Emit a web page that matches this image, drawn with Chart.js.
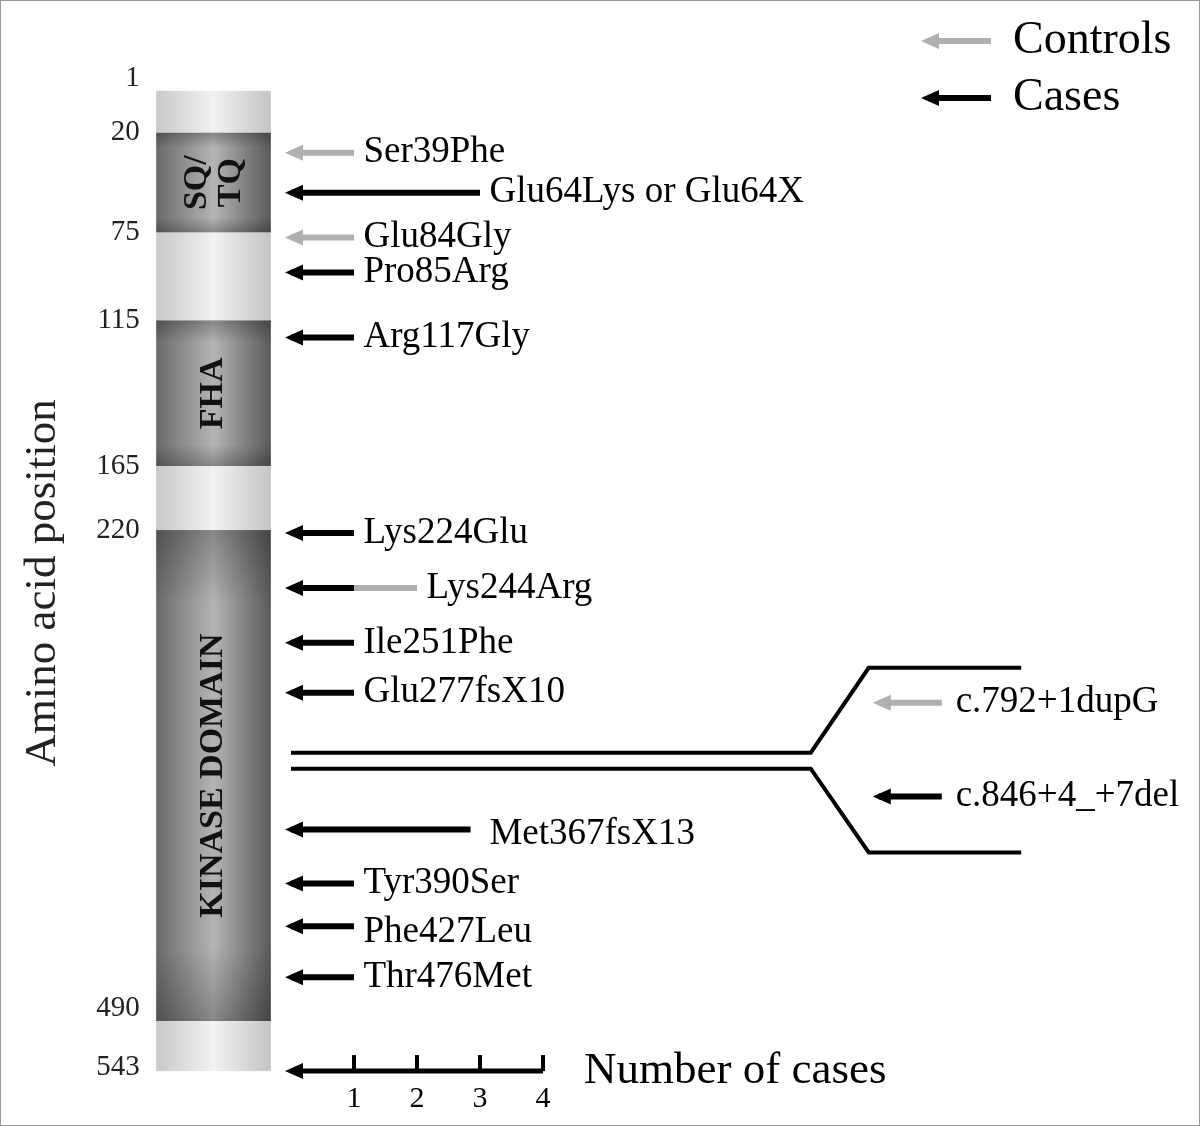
<!DOCTYPE html>
<html><head><meta charset="utf-8">
<script src="https://cdn.jsdelivr.net/npm/chart.js@4/dist/chart.umd.min.js"></script>
<style>html,body{margin:0;padding:0;background:#fff}#wrap{width:1200px;height:1126px;position:relative;box-sizing:border-box;border:1px solid #999}</style>
</head><body><div id="wrap"><canvas id="c"></canvas></div>
<script>
// ---- data ----
const mutLabels = ["Ser39Phe","Glu64Lys or Glu64X","Glu84Gly","Pro85Arg","Arg117Gly","Lys224Glu","Lys244Arg","Ile251Phe","Glu277fsX10","Met367fsX13","Tyr390Ser","Phe427Leu","Thr476Met"];
const mutPos    = [39,64,84,85,117,224,244,251,277,367,390,427,476];
const caseCounts    = [0,3,0,1,1,1,1,1,1,2.85,1,1,1];
const controlCounts = [1,0,1,0,0,0,1,0,0,0,0,0,0];
const spliceLabels = ["c.792+1dupG","c.846+4_+7del"];
const splicePos = [290,320];
const spliceCases = [0,1];
const spliceControls = [1,0];
const tickPositions = [1,20,75,115,165,220,490,543];
const domainStarts = [1,20,75,115,165,220,490];
const domainEnds   = [20,75,115,165,220,490,543];
const domainNames  = ["","SQ/|TQ","","FHA","","KINASE DOMAIN",""];
const caseTicks = [1,2,3,4];

// schematic (not-to-scale) mapping of amino acid position -> vertical fraction
const knots = [[-60,0],[1,90],[20,132],[39,152],[64,192],[75,232],[84,237],[85,272],[115,320],[117,337],[165,466],[220,530],[224,533],[244,588],[251,643],[264,668],[277,693],[290,703],[300,753],[310,769],[320,797],[367,830],[377,853],[390,884],[427,927],[476,978],[490,1022],[543,1072],[600,1126]];

class SchematicScale extends Chart.LinearScale {
  getPixelForValue(v){
    const k=knots; let f;
    if(v<=k[0][0]) f=k[0][1];
    else if(v>=k[k.length-1][0]) f=k[k.length-1][1];
    else for(let i=0;i<k.length-1;i++){ if(v>=k[i][0]&&v<=k[i+1][0]){ f=k[i][1]+(v-k[i][0])/(k[i+1][0]-k[i][0])*(k[i+1][1]-k[i][1]); break; } }
    return this.top + f/1126*(this.bottom-this.top);
  }
}
SchematicScale.id='schematic';
SchematicScale.defaults={};
Chart.register(SchematicScale);

const BLACK='#000', GRAY='#b0b0b0';
const datasets=[];
const labelsToDraw=[];
function addArrow(x0,x1,y,color,head){datasets.push({data:[{x:x0,y},{x:x1,y}],borderColor:color,borderWidth:6,showLine:true,pointRadius:0,head,headColor:color});}
mutPos.forEach((p,i)=>{
  const c=caseCounts[i], k=controlCounts[i];
  if(c>0) addArrow(0,c,p,BLACK,true);
  if(k>0) addArrow(c,c+k,p,GRAY,c===0);
  labelsToDraw.push({text:mutLabels[i],x:c+k+(i===9?0.3:0.15),y:p});
});
splicePos.forEach((p,i)=>{
  const s=9.33,c=spliceCases[i],k=spliceControls[i];
  addArrow(s,s+c+k,p,c>0?BLACK:GRAY,true);
  labelsToDraw.push({text:spliceLabels[i],x:10.55,y:p});
});
datasets.push({data:[{x:0,y:300},{x:8.25,y:300},{x:9.17,y:264},{x:11.59,y:264}],borderColor:BLACK,borderWidth:4,showLine:true,pointRadius:0});
datasets.push({data:[{x:0,y:310},{x:8.25,y:310},{x:9.17,y:377},{x:11.59,y:377}],borderColor:BLACK,borderWidth:4,showLine:true,pointRadius:0});
datasets.push({data:[{x:0,y:543},{x:4,y:543}],borderColor:BLACK,borderWidth:5,showLine:true,pointRadius:0,head:true,headColor:BLACK});

const SERIF='"Liberation Serif","DejaVu Serif",serif';
const plug={id:'schem',
 beforeDatasetsDraw(ch){
  const ctx=ch.ctx,xs=ch.scales.x,ys=ch.scales.y;
  const xl=xs.getPixelForValue(-2.14),xr=xs.getPixelForValue(-0.32);
  domainStarts.forEach((s,i)=>{
    const y0=ys.getPixelForValue(s),y1=ys.getPixelForValue(domainEnds[i]);
    const dark=domainNames[i]!=="";
    const g=ctx.createLinearGradient(xl,0,xr,0);
    if(dark){g.addColorStop(0,'#6a6a6a');g.addColorStop(0.5,'#b4b4b4');g.addColorStop(1,'#5a5a5a');}
    else{g.addColorStop(0,'#c8c8c8');g.addColorStop(0.5,'#f2f2f2');g.addColorStop(1,'#c4c4c4');}
    ctx.fillStyle=g;ctx.fillRect(xl,y0,xr-xl,y1-y0);
    if(dark){
      const g2=ctx.createLinearGradient(0,y0,0,y1);
      g2.addColorStop(0,'rgba(0,0,0,0.25)');g2.addColorStop(0.15,'rgba(0,0,0,0)');g2.addColorStop(0.85,'rgba(0,0,0,0)');g2.addColorStop(1,'rgba(0,0,0,0.25)');
      ctx.fillStyle=g2;ctx.fillRect(xl,y0,xr-xl,y1-y0);
      ctx.save();ctx.translate((xl+xr)/2,(y0+y1)/2);ctx.rotate(-Math.PI/2);
      ctx.fillStyle='#111';ctx.font='bold 34px '+SERIF;ctx.textAlign='center';ctx.textBaseline='middle';
      const parts=domainNames[i].split('|');
      if(parts.length===2){ctx.fillText(parts[0],0,-16);ctx.fillText(parts[1],0,18);} else ctx.fillText(parts[0],0,0);
      ctx.restore();
    }
  });
  ctx.fillStyle='#222';ctx.font='29px '+SERIF;ctx.textAlign='right';ctx.textBaseline='middle';
  tickPositions.forEach(t=>{let y=ys.getPixelForValue(t);if(t===1)y-=12;if(t===490)y-=13;if(t===543)y-=4;ctx.fillText(String(t),xs.getPixelForValue(-2.4),y);});
  ctx.save();ctx.translate(42,582);ctx.rotate(-Math.PI/2);ctx.font='45px '+SERIF;ctx.textAlign='center';ctx.fillText('Amino acid position',0,0);ctx.restore();
 },
 afterDatasetsDraw(ch){
  const ctx=ch.ctx,xs=ch.scales.x,ys=ch.scales.y;
  ch.data.datasets.forEach(ds=>{
    if(!ds.head)return;
    const p=ds.data[0],x=xs.getPixelForValue(p.x)-2,y=ys.getPixelForValue(p.y);
    ctx.fillStyle=ds.headColor;ctx.beginPath();ctx.moveTo(x-4,y);ctx.lineTo(x+14,y-8);ctx.lineTo(x+14,y+8);ctx.closePath();ctx.fill();
  });
  ctx.fillStyle='#000';ctx.font='37px '+SERIF;ctx.textAlign='left';ctx.textBaseline='middle';
  labelsToDraw.forEach(l=>{let y=ys.getPixelForValue(l.y);if(l.text==='Met367fsX13')y+=5;if(l.text==='Phe427Leu')y+=6;ctx.fillText(l.text,xs.getPixelForValue(l.x),y);});
  const yb=ys.getPixelForValue(543);
  ctx.strokeStyle='#000';ctx.lineWidth=4;ctx.font='30px '+SERIF;ctx.textAlign='center';
  caseTicks.forEach(t=>{const x=xs.getPixelForValue(t);ctx.beginPath();ctx.moveTo(x,yb-16);ctx.lineTo(x,yb);ctx.stroke();ctx.fillText(String(t),x,yb+28);});
  ctx.font='45px '+SERIF;ctx.textAlign='left';ctx.fillText('Number of cases',583,yb);
  [[GRAY,'Controls',40],[BLACK,'Cases',97]].forEach(([c,t,y])=>{
    ctx.strokeStyle=c;ctx.lineWidth=6;ctx.beginPath();ctx.moveTo(935,y);ctx.lineTo(990,y);ctx.stroke();
    ctx.fillStyle=c;ctx.beginPath();ctx.moveTo(920,y);ctx.lineTo(938,y-8);ctx.lineTo(938,y+8);ctx.closePath();ctx.fill();
    ctx.fillStyle='#000';ctx.font='46px '+SERIF;ctx.fillText(t,1012,y);
  });
 }};

new Chart(document.getElementById('c'),{
  type:'scatter',
  data:{datasets},
  options:{responsive:true,maintainAspectRatio:false,animation:false,
    layout:{padding:0},
    plugins:{legend:{display:false},tooltip:{enabled:false}},
    scales:{
      x:{type:'linear',min:-290/63,max:908/63,display:false},
      y:{type:'schematic',min:-60,max:600,display:false}
    }},
  plugins:[plug]
});
</script></body></html>
